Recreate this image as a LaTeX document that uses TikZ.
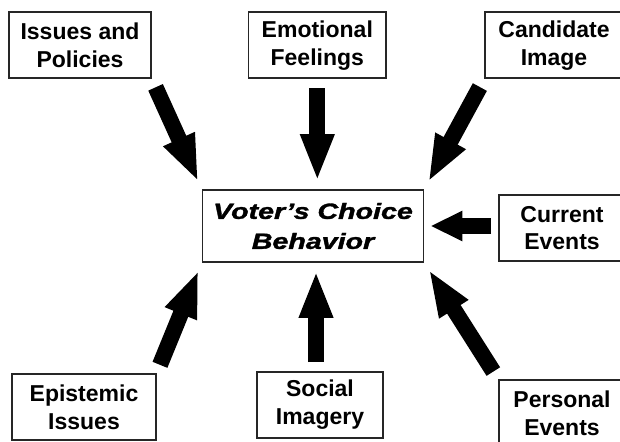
\documentclass[tikz,border=0pt]{standalone}
\usepackage{graphicx}
\usepackage{fontspec}
\setmainfont{Liberation Sans}
\newfontfamily\choicefont[FakeBold=1.5]{Liberation Sans}
\usetikzlibrary{arrows.meta}

\tikzset{
  factor/.style={draw=black!85, line width=0.85pt, align=center, inner sep=0pt,
    minimum height=33pt, font=\fontsize{11.5}{13.9}\selectfont\bfseries},
  choice/.style={draw=black!85, line width=0.85pt, align=center, inner sep=0pt,
    minimum width=110.5pt, minimum height=36pt, font=\choicefont\fontsize{11}{15}\selectfont\bfseries\itshape},
  influence/.style={line width=8pt, -{Triangle[width=15.5pt,length=23.5pt]},
    shorten <=4.5pt, shorten >=4pt},
  short influence/.style={line width=8pt, -{Triangle[width=14pt,length=16pt]},
    shorten <=3.5pt, shorten >=3pt}
}

\begin{document}
\begin{tikzpicture}[x=0.5pt,y=-0.5pt]
\useasboundingbox (0,0) rectangle (620,442);
\clip (0,0) rectangle (620,442);
\fill[white] (0,0) rectangle (620,442);

\node[choice] (voter) at (313,226) {\scalebox{1.3}[1]{Voter’s Choice}\\\scalebox{1.3}[1]{Behavior}};

\node[factor, minimum width=71pt] (issues) at (80,45.3) {Issues and\\Policies};
\node[factor, minimum width=68.7pt] (emotional) at (317.3,45.3) {Emotional\\Feelings};
\node[factor, minimum width=69pt] (candidate) at (554,45.3) {Candidate\\Image};
\node[factor, minimum width=63pt] (current) at (562,228) {Current\\Events};
\node[factor, minimum width=71.7pt] (epistemic) at (84,407) {Epistemic\\Issues};
\node[factor, minimum width=62.8pt] (social) at (320,405) {Social\\Imagery};
\node[factor, minimum width=63pt] (personal) at (562,413) {Personal\\Events};

\draw[influence] (issues.south east) -- (voter.north west);
\draw[influence] (emotional.south) -- (emotional.south |- voter.north);
\draw[influence] (candidate.south west) -- (voter.north east);
\draw[short influence] ([yshift=1pt]current.west) -- ([yshift=1pt]current.west -| voter.east);
\draw[influence] (epistemic.north east) -- (voter.south west);
\draw[influence] ([xshift=-2pt]social.north) -- ([xshift=-2pt]social.north |- voter.south);
\draw[influence] (personal.north west) -- (voter.south east);
\end{tikzpicture}
\end{document}
